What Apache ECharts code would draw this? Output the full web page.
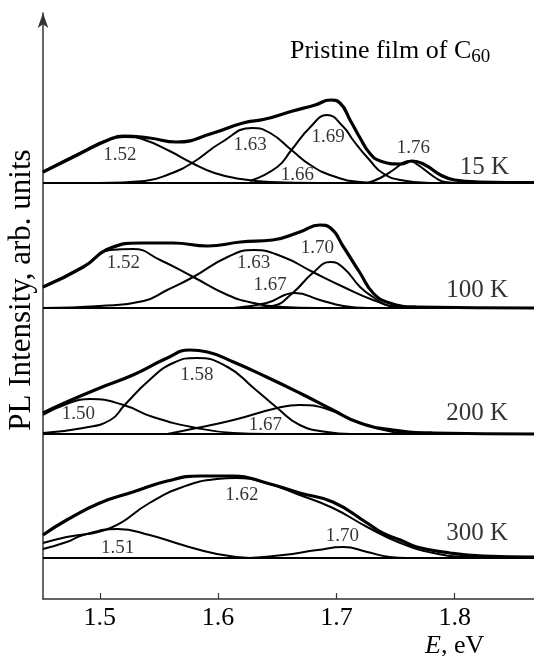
<!DOCTYPE html>
<html>
<head>
<meta charset="utf-8">
<script src="https://cdn.jsdelivr.net/npm/echarts@6/dist/echarts.min.js"></script>
<style>
  html, body { margin: 0; padding: 0; background: #fff; }
  #chart { width: 534px; height: 656px; }
</style>
</head>
<body>
<div id="chart"></div>
<script>
// energy axis (eV) and panel layout, intensity in arb. units
const xMin = 1.452;
const xMax = 1.867;
const yMax = 58.6;
const xTicks = [1.5, 1.6, 1.7, 1.8];

const panelNames = ['15 K', '100 K', '200 K', '300 K'];
const baselines = [41.6, 29.1, 16.5, 4.1];

// 15 K
const total15 = [[1.452,1.1],[1.481,2.8],[1.509,4.4],[1.520,4.7],[1.542,4.5],[1.565,4.1],[1.596,5.0],[1.621,6.0],[1.640,6.4],[1.663,7.2],[1.682,7.8],[1.695,8.3],[1.703,8.0],[1.712,6.2],[1.720,4.5],[1.728,3.0],[1.737,2.2],[1.754,1.9],[1.764,2.2],[1.775,1.8],[1.788,0.8],[1.800,0.3],[1.821,0.1],[1.867,0.05]];
const peak15_152 = [[1.452,1.1],[1.483,3.0],[1.509,4.4],[1.521,4.6],[1.538,4.3],[1.559,3.2],[1.578,2.0],[1.597,1.0],[1.619,0.4],[1.644,0.1],[1.686,0]];
const peak15_163 = [[1.500,0],[1.538,0.2],[1.559,0.9],[1.578,2.0],[1.602,4.0],[1.629,5.5],[1.644,5.0],[1.662,3.3],[1.678,1.8],[1.697,0.7],[1.720,0.1],[1.737,0]];
const peak15_169 = [[1.627,0.2],[1.650,1.6],[1.662,3.3],[1.678,5.6],[1.692,6.8],[1.706,5.6],[1.714,4.3],[1.728,2.3],[1.739,1.0],[1.754,0.3],[1.779,0]];
const peak15_176 = [[1.726,0],[1.737,0.5],[1.748,1.3],[1.756,2.0],[1.762,2.2],[1.769,1.8],[1.777,1.1],[1.784,0.5],[1.792,0.1],[1.804,0]];

// 100 K
const total100 = [[1.452,2.1],[1.486,4.1],[1.509,6.0],[1.534,6.5],[1.562,6.5],[1.591,6.2],[1.619,6.6],[1.646,6.8],[1.669,7.6],[1.686,8.3],[1.695,8.0],[1.706,6.1],[1.720,3.5],[1.731,1.5],[1.745,0.5],[1.768,0.1],[1.867,0]];
const peak100_152 = [[1.452,2.1],[1.486,4.1],[1.509,5.8],[1.528,5.9],[1.551,4.8],[1.579,3.1],[1.608,1.3],[1.630,0.5],[1.655,0.1],[1.684,0]];
const peak100_163 = [[1.452,0],[1.500,0.2],[1.537,0.7],[1.557,1.8],[1.579,3.1],[1.608,5.1],[1.630,5.8],[1.655,5.1],[1.680,3.6],[1.706,2.1],[1.731,0.8],[1.754,0.1],[1.782,0]];
const peak100_167 = [[1.613,0],[1.641,0.5],[1.665,1.5],[1.686,0.8],[1.706,0.2],[1.726,0]];
const peak100_170 = [[1.627,0],[1.646,0.2],[1.663,1.5],[1.680,3.5],[1.695,4.6],[1.706,4.0],[1.720,2.1],[1.731,1.1],[1.745,0.2],[1.768,0]];

// 200 K
const total200 = [[1.452,2.1],[1.472,3.2],[1.500,4.6],[1.528,5.9],[1.557,7.6],[1.576,8.4],[1.591,8.2],[1.613,7.2],[1.641,5.7],[1.669,4.1],[1.697,2.4],[1.720,1.1],[1.748,0.4],[1.782,0.1],[1.867,0]];
const peak200_150 = [[1.452,1.9],[1.472,3.0],[1.492,3.5],[1.520,2.9],[1.545,1.7],[1.582,0.6],[1.613,0.1],[1.641,0]];
const peak200_158 = [[1.452,0.1],[1.486,0.6],[1.509,1.4],[1.521,2.9],[1.542,5.4],[1.562,7.1],[1.582,7.6],[1.608,6.7],[1.630,4.6],[1.650,2.6],[1.669,0.9],[1.692,0.2],[1.712,0]];
const peak200_167 = [[1.557,0],[1.582,0.6],[1.613,1.4],[1.650,2.6],[1.669,2.9],[1.692,2.5],[1.720,1.1],[1.748,0.2],[1.768,0]];

// 300 K
const total300 = [[1.452,2.3],[1.472,3.8],[1.500,5.5],[1.528,6.6],[1.557,7.7],[1.585,8.2],[1.613,8.2],[1.641,7.5],[1.669,6.5],[1.697,5.6],[1.726,3.5],[1.739,2.5],[1.754,1.8],[1.768,1.1],[1.796,0.5],[1.824,0.2],[1.867,0.1]];
const peak300_151 = [[1.452,0.9],[1.472,1.6],[1.486,2.3],[1.515,2.9],[1.542,2.3],[1.570,1.3],[1.599,0.4],[1.627,0]];
const peak300_162 = [[1.452,1.5],[1.472,2.1],[1.509,3.0],[1.542,5.5],[1.570,7.1],[1.599,7.9],[1.615,8.0],[1.641,7.5],[1.669,6.3],[1.697,5.0],[1.726,3.1],[1.754,1.5],[1.782,0.5],[1.810,0.1],[1.867,0]];
const peak300_170 = [[1.627,0],[1.655,0.3],[1.684,0.8],[1.706,1.1],[1.726,0.6],[1.745,0.1],[1.760,0]];

const totals = [total15, total100, total200, total300];
const components = [
  [peak15_152, peak15_163, peak15_169, peak15_176],
  [peak100_152, peak100_163, peak100_167, peak100_170],
  [peak200_150, peak200_158, peak200_167],
  [peak300_151, peak300_162, peak300_170]
];

// peak value annotations [E, height above baseline, text]
const peakLabels = [
  [[1.517,2.8,'1.52'],[1.627,3.8,'1.63'],[1.693,4.6,'1.69'],[1.667,0.8,'1.66'],[1.765,3.5,'1.76']],
  [[1.520,4.5,'1.52'],[1.630,4.5,'1.63'],[1.684,6.0,'1.70'],[1.644,2.3,'1.67']],
  [[1.482,2.0,'1.50'],[1.582,5.9,'1.58'],[1.640,0.9,'1.67']],
  [[1.620,6.3,'1.62'],[1.515,1.0,'1.51'],[1.705,2.2,'1.70']]
];
const panelLabelPos = [[1.825,1.6],[1.819,1.8],[1.819,2.1],[1.819,2.5]];

const serif = '"Liberation Serif", "DejaVu Serif", serif';

const shift = (points, offset) => points.map(p => [p[0], p[1] + offset]);

const lineSeries = (points, width) => ({
  type: 'line',
  data: points,
  smooth: 0.5,
  symbol: 'none',
  silent: true,
  lineStyle: { color: '#000', width: width }
});

let series = [];
baselines.forEach((b, i) => {
  series.push(lineSeries([[xMin, b], [xMax, b]], 2.2));
  components[i].forEach((c) => {
    series.push(lineSeries(shift(c, b), 2));
  });
  series.push(lineSeries(shift(totals[i], b), 3.2));
});

let labelData = [];
baselines.forEach((b, i) => {
  peakLabels[i].forEach((p) => {
    labelData.push({ value: [p[0], p[1] + b, p[2]], label: { fontSize: 19 } });
  });
  labelData.push({
    value: [panelLabelPos[i][0], panelLabelPos[i][1] + b, panelNames[i]],
    label: { fontSize: 25 }
  });
});

series.push({
  type: 'scatter',
  data: labelData,
  symbolSize: 1,
  silent: true,
  itemStyle: { color: 'rgba(0,0,0,0)' },
  label: {
    show: true,
    position: 'inside',
    color: '#000',
    fontFamily: serif,
    formatter: (param) => param.data.value[2]
  }
});

const chart = echarts.init(document.getElementById('chart'));
const option = {
  animation: false,
  backgroundColor: '#fff',
  title: [
    {
      text: 'Pristine film of C{s|60}',
      left: 285,
      top: 31,
      textStyle: {
        fontFamily: serif,
        fontSize: 26,
        fontWeight: 'normal',
        color: '#000',
        rich: {
          s: { fontFamily: serif, fontSize: 19, color: '#000', padding: [12, 0, 0, 0] }
        }
      }
    },
    {
      text: '{i|E}, eV',
      left: 420,
      top: 628,
      textStyle: {
        fontFamily: serif,
        fontSize: 26,
        fontWeight: 'normal',
        color: '#000',
        rich: {
          i: { fontFamily: serif, fontSize: 26, fontStyle: 'italic', color: '#000' }
        }
      }
    }
  ],
  grid: { left: 43, right: 0, top: 13, bottom: 57, outerBoundsMode: 'none', containLabel: false },
  xAxis: {
    type: 'value',
    min: xMin,
    max: xMax,
    splitLine: { show: false },
    axisLine: { show: true, lineStyle: { color: '#333', width: 1.5 } },
    axisTick: { show: true, inside: true, length: 6, customValues: xTicks, lineStyle: { color: '#333', width: 1.2 } },
    axisLabel: {
      customValues: xTicks,
      margin: 6,
      color: '#000',
      fontFamily: serif,
      fontSize: 26,
      formatter: (value) => value.toFixed(1)
    }
  },
  yAxis: {
    type: 'value',
    min: 0,
    max: yMax,
    name: 'PL Intensity, arb. units',
    nameLocation: 'middle',
    nameGap: 6,
    nameTextStyle: { fontFamily: serif, fontSize: 31, color: '#000', padding: [0, 0, 0, 32] },
    splitLine: { show: false },
    axisTick: { show: false },
    axisLabel: { show: false },
    axisLine: {
      show: true,
      symbol: ['none', 'arrow'],
      symbolSize: [8, 15],
      lineStyle: { color: '#333', width: 1.5 }
    }
  },
  series: series
};
chart.setOption(option);
</script>
</body>
</html>
